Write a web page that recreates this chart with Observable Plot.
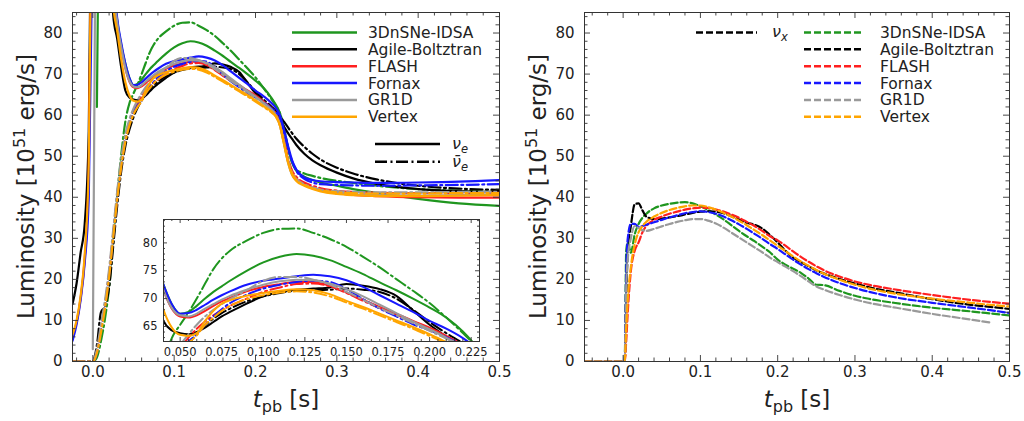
<!DOCTYPE html>
<html><head><meta charset="utf-8">
<script src="https://cdn.jsdelivr.net/npm/d3@7"></script>
<script src="https://cdn.jsdelivr.net/npm/@observablehq/plot@0.6"></script>
<style>
html,body{margin:0;padding:0;background:#fff;}
#wrap{position:relative;width:1024px;height:421px;overflow:hidden;font-family:"DejaVu Sans",sans-serif;}
</style></head>
<body><div id="wrap"></div>
<script>
// ---------------- data ----------------
const codes = ["3DnSNe-IDSA", "Agile-Boltztran", "FLASH", "Fornax", "GR1D", "Vertex"];
const codeColors = ["#1f961f", "#000000", "#ff1f1f", "#1717ff", "#9a9a9a", "#ffa500"];

// left panel time grid [s]
const tLeft = [-0.025,-0.02,-0.015,-0.01,-0.005,0,0.005,0.01,0.015,0.02,0.025,0.03,0.035,0.04,0.045,0.05,0.055,0.06,0.065,0.07,0.075,0.08,0.09,0.1,0.11,0.12,0.13,0.14,0.15,0.16,0.17,0.18,0.19,0.2,0.21,0.22,0.225,0.23,0.235,0.24,0.245,0.25,0.26,0.27,0.28,0.3,0.32,0.35,0.4,0.45,0.5];

// electron neutrino luminosities (solid)
const nueIDSA   = [null,null,null,null,null,null,62,165,170,140,95,83,77,72.5,69,67.3,67.6,68.7,70.0,71.2,72.2,73.2,75.0,76.5,77.5,78.0,77.7,76.9,75.7,74.4,72.9,71.5,70.0,68.4,66.6,64.1,62.5,60.5,56.5,52,48.5,46.5,45,44.2,43.6,42.8,42.0,41.0,39.6,38.5,37.9];
const nueAgile  = [14,19,26.5,33.5,56,150,170,170,160,120,84.5,78.5,71.5,66,64.3,63.8,63.6,64.0,64.8,65.8,66.8,67.6,69.1,70.4,71.2,71.6,71.8,72.0,72.6,72.3,71.7,70.5,67.9,65.3,63.2,61.3,60.2,58.8,57.2,55.6,54.2,52.8,50.6,49.0,47.8,46.0,44.6,43.2,42.0,41.5,41.3];
const nueFLASH  = [6,9.5,15.5,25,46,140,165,168,160,125,92,82.5,76.5,71.5,68.2,66.8,66.6,67.0,67.8,68.7,69.5,70.1,71.3,72.1,72.6,73.0,73.0,72.3,71.1,69.8,68.5,67.3,66.0,64.8,63.3,61.6,60.3,58.0,53.5,49.0,46.0,44.5,43.2,42.3,41.7,41.0,40.6,40.3,40.0,39.9,39.9];
const nueFornax = [5,9,15,24,40,110,160,168,160,130,95,83.5,77.5,72.5,69.0,67.3,67.4,68.0,68.9,69.8,70.6,71.3,72.5,73.2,73.6,74.0,74.3,74.0,73.3,72.1,70.6,69.1,67.6,66.0,64.6,62.9,61.8,60.0,56.5,52.5,49.0,46.8,44.8,44.2,43.9,43.7,43.6,43.5,43.6,43.8,44.2];
const nueGR1D   = [null,null,null,null,null,3,160,170,160,128,93,82.5,76.5,71.5,68.3,67.0,66.8,67.3,68.2,69.0,69.8,70.5,71.6,72.5,73.1,73.4,73.3,72.7,71.7,70.4,68.9,67.4,65.9,64.5,63.0,61.3,60.0,57.5,53.0,48.5,45.5,44.2,43.0,42.2,41.6,41.0,40.7,40.5,40.4,40.5,40.7];
const nueVertex = [6.5,10,16,26,48,140,165,168,160,122,87,80.5,73.5,68.0,64.8,63.5,63.3,63.8,66.0,67.8,69.1,69.7,70.5,71.0,71.4,71.7,71.5,70.8,69.6,68.5,67.3,66.1,64.9,63.6,62.2,60.8,59.7,57.5,53.0,48.5,45.5,44.0,42.8,42.0,41.4,40.8,40.5,40.3,40.3,40.4,40.5];

// electron antineutrino luminosities (dash-dot)
const anueIDSA   = [0,0,0,0,0,0,1,5,10.5,18,29,40.5,50.5,58.5,62.9,65.3,67.5,70.0,72.7,75.3,77.2,78.6,80.4,81.8,82.5,82.6,81.8,80.7,79.3,77.5,75.6,73.5,71.4,69.2,66.6,63.8,62.3,60.5,57,52,48.5,46.8,45.8,45.2,44.7,44.0,43.5,42.8,42.0,41.6,41.3];
const anueAgile  = [0,0,0,0,0,0,4,12,13.5,18,28,38,46.5,52.5,56.5,59.5,61.8,63.6,65.2,66.4,67.4,68.2,69.5,70.4,71.0,71.4,71.5,71.6,71.8,71.6,71.2,70.0,68.0,65.8,63.8,62.0,61.0,59.8,58.4,57.0,55.6,54.3,52.3,50.6,49.2,47.2,45.8,44.3,42.8,42.1,41.8];
const anueFLASH  = [0,0,0,0,0,0,2.5,8,14,21.5,31,40.5,48.5,54.5,58.3,61.0,63.0,64.6,65.9,67.0,67.9,68.7,70.0,71.2,72.0,72.6,72.7,72.2,71.0,69.6,68.3,67.1,65.9,64.6,63.2,61.5,60.3,58.0,54.0,49.5,46.5,45.0,43.6,42.8,42.2,41.6,41.3,41.1,41.0,41.0,41.1];
const anueFornax = [0,0,0,0,0,0,2,7.5,13.5,21,30.5,40,48,54,58,60.8,62.3,63.6,65.3,66.8,68.1,69.2,70.7,71.8,72.5,73.0,73.2,73.0,71.7,69.9,68.2,66.8,65.4,64.3,63.1,61.6,60.8,59.3,56.0,52.0,48.8,46.5,44.5,43.6,43.2,43.0,42.9,42.8,42.9,43.0,43.2];
const anueGR1D   = [0,0,0,0,0,0,3,9,15,22.5,32,41.5,49.5,55.3,59.0,61.6,63.6,65.3,66.8,68.0,69.0,69.9,71.5,73.2,73.9,73.9,73.4,72.5,71.2,69.8,68.3,67.0,65.6,64.2,62.8,61.2,60.0,57.8,53.5,49.0,46.0,44.5,43.2,42.4,41.9,41.5,41.3,41.2,41.2,41.3,41.3];
const anueVertex = [0,0,0,0,0,0,2,7,13,20.5,30,39.5,47.5,53.5,57.5,60.2,62.0,63.4,65.3,66.6,67.8,68.7,69.9,70.6,71.1,71.3,71.1,70.4,69.3,68.2,67.0,65.8,64.6,63.3,62.0,60.6,59.7,57.5,53.2,48.8,45.8,44.3,43.0,42.2,41.7,41.2,41.0,40.9,40.9,41.0,41.0];

// right panel time grid [s]
const tRight = [-0.05,0,0.002,0.004,0.006,0.01,0.015,0.02,0.025,0.03,0.04,0.05,0.06,0.07,0.08,0.09,0.1,0.11,0.12,0.13,0.14,0.15,0.16,0.17,0.18,0.19,0.2,0.21,0.22,0.23,0.24,0.25,0.26,0.28,0.3,0.32,0.35,0.4,0.45,0.475,0.5];

// heavy-lepton neutrino luminosities (dashed)
const nuxIDSA   = [0,0,0,27,29,26.5,31,33.5,35,36,37.3,38,38.4,38.7,38.8,38.5,37.8,36.9,35.8,34.6,33.2,31.8,30.5,29.3,28,26.6,24.8,23.6,22.6,21.6,20.2,18.7,18.6,17.2,16.0,15.2,14.3,13.1,12.2,11.7,11.2];
const nuxAgile  = [0,0,0,15,27,33,38.3,38.5,36.8,35.3,34.7,34.8,35.1,35.4,35.8,36.2,36.5,36.6,36.5,36.1,35.4,34.6,33.8,33.3,32.4,30.8,29.0,27.0,25.3,24.2,23.2,22.2,21.4,20.1,19.0,18.0,16.9,15.2,13.8,13.3,12.8];
const nuxFLASH  = [0,0,0,5,12,22,27,29,31.5,33,34.5,35.3,36,36.5,37,37.3,37.5,37.4,37,36.5,35.8,35,34,33,31.8,30.5,29.5,28.2,26.8,25.5,24.3,23.2,22.2,20.7,19.5,18.6,17.6,16.2,15.0,14.5,14.1];
const nuxFornax = [0,0,0,22,30,33.5,33.5,32.8,33,33.3,33.9,34.5,35.1,35.6,36.1,36.4,36.6,36.4,36,35.3,34.4,33.4,32.3,31.1,29.9,28.6,27.4,26.1,24.8,23.6,22.5,21.5,20.6,19.1,17.9,16.9,15.7,14.3,13.1,12.5,11.8];
const nuxGR1D   = [0,0,0,18,25,30,33,32.5,32,31.8,32.3,32.9,33.5,34,34.4,34.7,34.7,34.3,33.6,32.6,31.4,30.2,29,27.8,26.6,25.3,24.2,23.1,22,20.8,19.5,18.3,17.5,16.2,15.1,14.2,13.2,11.6,10.2,9.5,null];
const nuxVertex = [0,0,0,8,15,23,28.5,31.5,33,34,35.3,36.2,36.9,37.4,37.8,38,38,37.6,37,36.2,35.3,34.3,33.2,32,30.8,29.5,28.2,26.9,25.6,24.4,23.3,22.3,21.4,19.9,18.7,17.7,16.6,15.3,14.3,13.8,13.4];

// tick values
const xTicksMain  = [0, 0.1, 0.2, 0.3, 0.4, 0.5];
const yTicksMain  = [0, 10, 20, 30, 40, 50, 60, 70, 80];
const xTicksInset = [0.05, 0.075, 0.1, 0.125, 0.15, 0.175, 0.2, 0.225];
const yTicksInset = [65, 70, 75, 80];

// ---------------- build ----------------
const nueSeries  = [nueIDSA, nueAgile, nueFLASH, nueFornax, nueGR1D, nueVertex];
const anueSeries = [anueIDSA, anueAgile, anueFLASH, anueFornax, anueGR1D, anueVertex];
const nuxSeries  = [nuxIDSA, nuxAgile, nuxFLASH, nuxFornax, nuxGR1D, nuxVertex];

function rows(t, vals, code) {
  return t.map((x, i) => ({t: x, v: vals[i], code})).filter(d => d.v != null);
}
const DASHDOT = "12,3.5,2,3.5";
const DASHED = "7,3";
const LW = 2.2;
const colorScale = {type: "ordinal", domain: codes, range: codeColors};

function leftLines(lw) {
  return codes.flatMap((c, i) => [
    Plot.line(rows(tLeft, nueSeries[i], c), {x: "t", y: "v", stroke: "code", strokeWidth: lw, curve: "monotone-x", clip: true}),
    Plot.line(rows(tLeft, anueSeries[i], c), {x: "t", y: "v", stroke: "code", strokeWidth: lw, strokeDasharray: DASHDOT, curve: "monotone-x", clip: true})
  ]);
}

function minorTicks(lo, hi, step, majorStep) {
  const out = [];
  const n0 = Math.ceil(lo / step - 1e-9), n1 = Math.floor(hi / step + 1e-9);
  for (let k = n0; k <= n1; k++) {
    const v = k * step;
    const r = v / majorStep;
    if (Math.abs(r - Math.round(r)) > 1e-6) out.push(+v.toFixed(6));
  }
  return out;
}

function frameTicks(W, H, xMaj, xMin, yMaj, yMin, maj, min) {
  const o = {stroke: "#333", strokeWidth: 0.9};
  return [
    Plot.ruleX(xMaj, {x: d => d, insetTop: H - maj, ...o}),
    Plot.ruleX(xMaj, {x: d => d, insetBottom: H - maj, ...o}),
    Plot.ruleX(xMin, {x: d => d, insetTop: H - min, ...o}),
    Plot.ruleX(xMin, {x: d => d, insetBottom: H - min, ...o}),
    Plot.ruleY(yMaj, {y: d => d, insetRight: W - maj, ...o}),
    Plot.ruleY(yMaj, {y: d => d, insetLeft: W - maj, ...o}),
    Plot.ruleY(yMin, {y: d => d, insetRight: W - min, ...o}),
    Plot.ruleY(yMin, {y: d => d, insetLeft: W - min, ...o})
  ];
}

const wrap = document.getElementById("wrap");
function place(el, left, top) {
  el.style.position = "absolute";
  el.style.left = left + "px";
  el.style.top = top + "px";
  wrap.appendChild(el);
}

const baseStyle = {fontFamily: "DejaVu Sans", fontSize: "15px", color: "#222", background: "transparent"};

// left panel
{
  const W = 512, H = 421, ml = 72, mr = 13, mt = 12, mb = 60;
  const iw = W - ml - mr, ih = H - mt - mb;
  const svg = Plot.plot({
    width: W, height: H, marginLeft: ml, marginRight: mr, marginTop: mt, marginBottom: mb,
    x: {domain: [-0.025, 0.5], label: null}, y: {domain: [0, 85], label: null},
    color: colorScale,
    style: baseStyle,
    marks: [
      ...leftLines(LW),
      ...frameTicks(iw, ih, xTicksMain, minorTicks(-0.025, 0.5, 0.02, 0.1), yTicksMain, minorTicks(0, 85, 2, 10), 6, 3.5),
      Plot.axisX(xTicksMain, {tickSize: 0, tickPadding: 5, tickFormat: d3.format(".1f"), label: null}),
      Plot.axisY(yTicksMain, {tickSize: 0, tickPadding: 10, tickFormat: d3.format("d"), label: null}),
      Plot.frame({stroke: "#333", strokeWidth: 1})
    ]
  });
  place(svg, 0, 0);
}

// inset
{
  const W = 372, H = 160, ml = 33, mr = 23, mt = 14, mb = 24;
  const iw = W - ml - mr, ih = H - mt - mb;
  const svg = Plot.plot({
    width: W, height: H, marginLeft: ml, marginRight: mr, marginTop: mt, marginBottom: mb,
    x: {domain: [0.04, 0.23], label: null}, y: {domain: [62.3, 84.2], label: null},
    color: colorScale,
    style: {...baseStyle, fontSize: "11.5px"},
    marks: [
      Plot.frame({fill: "white", stroke: null}),
      ...leftLines(2),
      ...frameTicks(iw, ih, xTicksInset, minorTicks(0.04, 0.23, 0.005, 0.025), yTicksInset, minorTicks(62.3, 84.2, 1, 5), 4, 2),
      Plot.axisX(xTicksInset, {tickSize: 0, tickPadding: 6, tickFormat: d3.format(".3f"), label: null}),
      Plot.axisY(yTicksInset, {tickSize: 0, tickPadding: 6, tickFormat: d3.format("d"), label: null}),
      Plot.frame({stroke: "#333", strokeWidth: 1})
    ]
  });
  place(svg, 130, 205);
}

// right panel
{
  const W = 512, H = 421, ml = 72, mr = 15, mt = 12, mb = 60;
  const iw = W - ml - mr, ih = H - mt - mb;
  const svg = Plot.plot({
    width: W, height: H, marginLeft: ml, marginRight: mr, marginTop: mt, marginBottom: mb,
    x: {domain: [-0.05, 0.5], label: null}, y: {domain: [0, 85], label: null},
    color: colorScale,
    style: baseStyle,
    marks: [
      ...codes.map((c, i) => Plot.line(rows(tRight, nuxSeries[i], c), {x: "t", y: "v", stroke: "code", strokeWidth: LW, strokeDasharray: DASHED, curve: "monotone-x", clip: true})),
      ...frameTicks(iw, ih, xTicksMain, minorTicks(-0.05, 0.5, 0.02, 0.1), yTicksMain, minorTicks(0, 85, 2, 10), 6, 3.5),
      Plot.axisX(xTicksMain, {tickSize: 0, tickPadding: 5, tickFormat: d3.format(".1f"), label: null}),
      Plot.axisY(yTicksMain, {tickSize: 0, tickPadding: 10, tickFormat: d3.format("d"), label: null}),
      Plot.frame({stroke: "#333", strokeWidth: 1})
    ]
  });
  place(svg, 512, 0);
}

// overlay: axis titles and legends
{
  const ov = d3.create("svg").attr("width", 1024).attr("height", 421)
    .style("font-family", "DejaVu Sans").style("pointer-events", "none");
  const fill = "#222";
  function yTitle(cx) {
    const t = ov.append("text").attr("transform", `translate(${cx},186.5) rotate(-90)`)
      .attr("text-anchor", "middle").attr("dy", "0.35em").attr("font-size", 23).attr("fill", fill);
    t.append("tspan").text("Luminosity [10");
    t.append("tspan").attr("font-size", 16).attr("dy", -9).text("51");
    t.append("tspan").attr("dy", 9).text(" erg/s]");
  }
  function xTitle(cx) {
    const t = ov.append("text").attr("x", cx).attr("y", 407).attr("text-anchor", "middle")
      .attr("font-size", 23).attr("fill", fill);
    t.append("tspan").attr("font-style", "italic").text("t");
    t.append("tspan").attr("font-size", 16).attr("dy", 5).text("pb");
    t.append("tspan").attr("dy", -5).text(" [s]");
  }
  yTitle(26); xTitle(286);
  yTitle(538); xTitle(797);

  const rowY = i => 32.5 + i * 16.85;
  function nuLabel(x, y, sub, bar) {
    const t = ov.append("text").attr("x", x).attr("y", y).attr("dy", "0.3em").attr("font-size", 16).attr("fill", fill);
    t.append("tspan").attr("font-style", "italic").text(bar ? "ν\u0304" : "ν");
    t.append("tspan").attr("font-style", "italic").attr("font-size", 11.5).attr("dy", 4).text(sub);
  }
  // left legend
  codes.forEach((c, i) => {
    ov.append("line").attr("x1", 292).attr("x2", 357).attr("y1", rowY(i)).attr("y2", rowY(i))
      .attr("stroke", codeColors[i]).attr("stroke-width", 2.5);
    ov.append("text").attr("x", 368).attr("y", rowY(i)).attr("dy", "0.36em")
      .attr("font-size", 15.5).attr("fill", fill).text(c);
  });
  ov.append("line").attr("x1", 375).attr("x2", 440).attr("y1", 144).attr("y2", 144)
    .attr("stroke", "#000").attr("stroke-width", 2.5);
  ov.append("line").attr("x1", 375).attr("x2", 440).attr("y1", 161.7).attr("y2", 161.7)
    .attr("stroke", "#000").attr("stroke-width", 2.5).attr("stroke-dasharray", DASHDOT);
  nuLabel(452, 144, "e", false);
  nuLabel(452, 161.7, "e", true);

  // right legend
  ov.append("line").attr("x1", 696).attr("x2", 757).attr("y1", rowY(0)).attr("y2", rowY(0))
    .attr("stroke", "#000").attr("stroke-width", 2.5).attr("stroke-dasharray", DASHED);
  nuLabel(772, rowY(0), "x", false);
  codes.forEach((c, i) => {
    ov.append("line").attr("x1", 804).attr("x2", 864).attr("y1", rowY(i)).attr("y2", rowY(i))
      .attr("stroke", codeColors[i]).attr("stroke-width", 2.5).attr("stroke-dasharray", DASHED);
    ov.append("text").attr("x", 880).attr("y", rowY(i)).attr("dy", "0.36em")
      .attr("font-size", 15.5).attr("fill", fill).text(c);
  });
  place(ov.node(), 0, 0);
}
</script>
</body></html>
